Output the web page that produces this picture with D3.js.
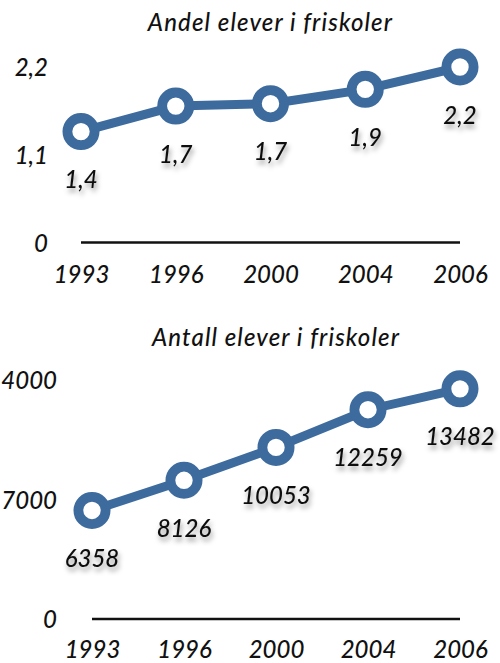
<!DOCTYPE html>
<html>
<head>
<meta charset="utf-8">
<script src="https://cdn.jsdelivr.net/npm/d3@7"></script>
<style>
  body { margin: 0; background: #fff; }
  svg text { font-family: Lato, "Open Sans", sans-serif; font-style: italic; font-weight: 500; fill: #111; }
</style>
</head>
<body>
<svg id="chart" width="500" height="663"></svg>
<script>
// data
const years = ["1993", "1996", "2000", "2004", "2006"];
const andel = [1.39, 1.71, 1.74, 1.92, 2.2];      // prosent
const antall = [6358, 8126, 10053, 12259, 13482];  // elever
const andelTicks = [0, 1.1, 2.2];
const antallTicks = [0, 7000, 14000];

const blue = "#3d6b9e";
const svg = d3.select("#chart");

// soft shadow under the value labels
const f = svg.append("defs").append("filter")
  .attr("id", "shadow").attr("x", "-30%").attr("y", "-30%").attr("width", "160%").attr("height", "190%");
f.append("feDropShadow")
  .attr("dx", 1.5).attr("dy", 4).attr("stdDeviation", 2.6)
  .attr("flood-color", "#000").attr("flood-opacity", 0.4);

const komma = v => d3.format(".1f")(v).replace(".", ",");

function drawChart(opt) {
  const g = svg.append("g");
  const x = d3.scalePoint().domain(years).range([opt.x0, opt.x1]);
  const y = d3.scaleLinear().domain(opt.domain).range([opt.y0, opt.y1]);

  g.append("text")
    .attr("x", (opt.x0 + opt.x1) / 2).attr("y", opt.titleY)
    .attr("text-anchor", "middle")
    .style("font-size", "24px")
    .style("letter-spacing", "1.1px")
    .text(opt.title);

  // y labels, no axis line
  const ya = g.append("g")
    .attr("transform", `translate(${opt.labelX},0)`)
    .call(d3.axisLeft(y).tickValues(opt.ticks).tickSize(0).tickPadding(0).tickFormat(opt.tickFmt));
  ya.select(".domain").remove();
  ya.selectAll("text").style("font-size", "24px").style("font-family", null).attr("dy", "0.36em");

  // baseline
  g.append("line")
    .attr("x1", x(years[0])).attr("x2", x(years[years.length - 1]))
    .attr("y1", y(0)).attr("y2", y(0))
    .attr("stroke", "#111").attr("stroke-width", 2.5);

  // year labels
  const xa = g.append("g")
    .attr("transform", `translate(0,${opt.yearY})`)
    .call(d3.axisBottom(x).tickSize(0).tickPadding(0));
  xa.select(".domain").remove();
  xa.selectAll("text").style("font-size", "24px").style("font-family", null).attr("dy", "0.36em");

  const pts = years.map((yr, i) => ({ yr, v: opt.values[i] }));

  g.append("path")
    .datum(pts)
    .attr("fill", "none").attr("stroke", blue).attr("stroke-width", 9)
    .attr("d", d3.line().x(d => x(d.yr)).y(d => y(d.v)));

  g.selectAll("circle").data(pts).join("circle")
    .attr("cx", d => x(d.yr)).attr("cy", d => y(d.v)).attr("r", 13.6)
    .attr("fill", "#fff").attr("stroke", blue).attr("stroke-width", 9.8);

  g.selectAll(".val").data(pts).join("text")
    .attr("class", "val")
    .attr("x", d => x(d.yr)).attr("y", d => y(d.v) + 48)
    .attr("dy", "0.36em")
    .attr("text-anchor", "middle")
    .attr("filter", "url(#shadow)")
    .style("font-size", "24px")
    .text(d => opt.valFmt(d.v));
}

drawChart({
  title: "Andel elever i friskoler", titleY: 31,
  values: andel, ticks: andelTicks, domain: [0, 2.2],
  x0: 81, x1: 460, y0: 242.5, y1: 67, labelX: 48, yearY: 274,
  tickFmt: v => v === 0 ? "0" : komma(v), valFmt: komma
});

drawChart({
  title: "Antall elever i friskoler", titleY: 346,
  values: antall, ticks: antallTicks, domain: [0, 14000],
  x0: 92, x1: 460, y0: 619, y1: 380, labelX: 57, yearY: 649,
  tickFmt: d3.format("d"), valFmt: d3.format("d")
});
</script>
</body>
</html>
